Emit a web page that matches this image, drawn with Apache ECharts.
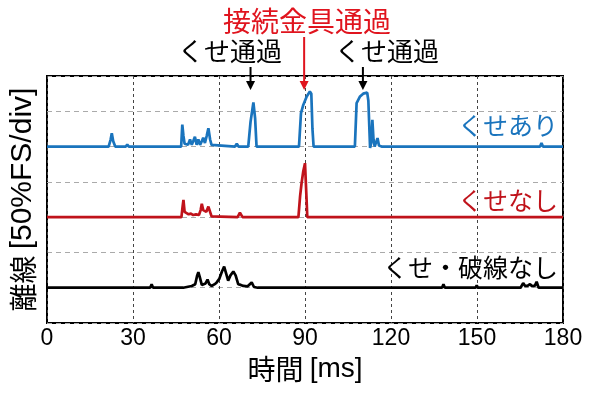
<!DOCTYPE html>
<html><head><meta charset="utf-8">
<script src="https://cdn.jsdelivr.net/npm/echarts@6/dist/echarts.min.js"></script>
<style>html,body{margin:0;padding:0;background:#fff}#c{width:600px;height:394px}</style>
</head><body><div id="c"></div>
<script>
// x ticks
const xTicks = [0, 30, 60, 90, 120, 150, 180];
// series names
const seriesNames = ['くせあり', 'くせなし', 'くせ・破線なし'];
// baselines (div) for each trace
const baselines = [5, 3, 1];
// traces: [time ms, height in div above baseline]
const blueTrace = [[0,0],[21.5,0],[22.2,0.2],[22.6,0.38],[23.1,0.15],[23.8,0],[27.5,0],[28,0.06],[28.5,0],[37.3,0],[37.7,0.04],[38.1,0],
 [46.8,0],[47.2,0.62],[47.6,0.3],[48.0,0.08],[48.5,0.1],[49.2,0.05],[49.9,0.2],[50.5,0.05],[51.0,0.15],[51.6,0.28],[52.2,0.05],[52.8,0.2],
 [53.4,0.05],[54.0,0.15],[54.5,0.25],[55.1,0.1],[55.7,0.3],[56.3,0.52],[56.9,0.2],[57.4,0.05],[58,0],[65.6,0],[66.2,0.08],[66.8,0],
 [70.2,0],[71.0,0.7],[72.0,1.25],[72.6,0.8],[73.1,0],[87.9,0],[88.6,0.95],[89.4,1.18],[90.6,1.42],[91.7,1.56],[92.2,1.5],[92.6,0.5],[93.0,0],
 [107.4,0],[108.0,1.23],[109.2,1.42],[110.3,1.5],[111.7,1.53],[112.1,1.3],[112.7,-0.04],[113.1,0.1],[113.5,0.76],[113.9,0.2],[114.3,0],
 [114.9,0.05],[115.3,0.24],[115.8,0.03],[116.7,0],[163.8,0],[164.3,0.05],[164.8,0],[167.0,0],[167.3,0.05],[167.6,0],[172.0,0],[172.5,0.1],[173.0,0],[180,0]];
const redTrace = [[0,0],[46.9,0],[47.3,0.3],[47.6,0.49],[48.0,0.15],[48.6,0.1],[49.4,0.08],[50.2,0.1],[51,0.06],[52,0.08],[53,0.06],[53.6,0.2],
 [54.0,0.38],[54.5,0.2],[55.1,0.22],[55.6,0.15],[56.3,0.3],[56.9,0.28],[57.4,0.02],[66.5,0],[67.3,0.13],[68.2,0],[87.7,0],[88.3,0.6],
 [88.8,0.96],[89.4,1.3],[90.0,1.53],[90.6,0.4],[90.8,0],[180,0]];
const blackTrace = [[0,0],[36,0],[36.5,0.1],[37,0],[46.5,0],[47,0.04],[47.5,0],[50.5,0.05],[51,0.1],[51.7,0.1],[52.4,0.35],[52.8,0.44],[53.3,0.3],
 [54.0,0.08],[54.5,0.05],[55.3,0.12],[56,0.23],[56.6,0.1],[57.4,0.05],[58.5,0.1],[59.2,0.15],[60.1,0.25],[61,0.45],[61.8,0.6],[62.5,0.4],
 [63.2,0.2],[64,0.35],[65,0.46],[65.8,0.35],[66.7,0.1],[67.6,0.08],[68.5,0.05],[70,0.04],[71.4,0.15],[72.2,0.02],[73.5,0],[89.5,0],[90,0.04],
 [90.5,0],[137.8,0],[138.3,0.1],[138.8,0],[149.5,0],[149.9,0.07],[150.3,0],[165.2,0],[166.1,0.13],[166.8,0.05],[167.6,0.05],[168.5,0.1],
 [169.2,0.04],[170.2,0.06],[170.8,0.17],[171.5,0],[180,0]];
// annotations: label, arrow time (ms)
const annoLabels = ['くせ通過', '接続金具通過', 'くせ通過'];
const annoTimes = [71.0, 89.7, 110.2];

const colors = ['#1a74bd', '#c0131b', '#000000'];
const traces = [blueTrace, redTrace, blackTrace];
const JP = '"Noto Sans CJK JP", "Noto Sans", sans-serif';
const LAT = '"Liberation Sans", Arial, sans-serif';

const chart = echarts.init(document.getElementById('c'), null, {renderer: 'canvas'});
const option = {
  animation: false,
  backgroundColor: '#fff',
  grid: {left: 47, right: 37, top: 76, bottom: 71, show: true, borderColor: '#000', borderWidth: 2, backgroundColor: 'transparent', containLabel: false},
  xAxis: {
    type: 'value', min: xTicks[0], max: xTicks[xTicks.length-1], interval: 30,
    axisLine: {show: false}, axisTick: {show: false},
    axisLabel: {color: '#000', fontSize: 23, fontFamily: LAT, margin: 4},
    splitLine: {show: true, lineStyle: {color: '#444', type: [3, 3], width: 1}},
    name: '{a|時間} {b|[ms]}', nameLocation: 'middle', nameGap: 23,
    nameTextStyle: {color: '#000', fontSize: 28, fontFamily: JP,
      rich: {a: {fontSize: 28, fontFamily: JP, color: '#000'}, b: {fontSize: 28, fontFamily: LAT, color: '#000'}}}
  },
  yAxis: {
    type: 'value', min: 0, max: 7, interval: 1,
    axisLine: {show: false}, axisTick: {show: false}, axisLabel: {show: false},
    splitLine: {show: true, lineStyle: {color: '#aaa', type: [5, 4], width: 1}},
    name: '{a|離線} {b|[50%FS/div]}', nameLocation: 'middle', nameGap: 9, nameRotate: 90,
    nameTextStyle: {color: '#000', fontSize: 27, fontFamily: JP,
      rich: {a: {fontSize: 28, fontFamily: JP, color: '#000'}, b: {fontSize: 30, fontFamily: LAT, color: '#000'}}}
  },
  series: traces.map((tr, i) => ({
    name: seriesNames[i], type: 'line', showSymbol: false, symbol: 'none', clip: false,
    lineStyle: {color: colors[i], width: 2.7}, z: 3,
    data: tr.map(p => [p[0], p[1] + baselines[i]])
  }))
};
chart.setOption(option);

// annotations via graphic
const g = [];
const labelLevels = [5.6, 3.48, 1.585];
seriesNames.forEach((n, i) => {
  const py = chart.convertToPixel({gridIndex: 0}, [180, labelLevels[i]])[1];
  g.push({type: 'text', x: 558, y: py, style: {text: n, fill: colors[i], fontSize: 25, fontFamily: JP, align: 'right', verticalAlign: 'middle'}});
});
const annoX = annoTimes.map(t => chart.convertToPixel({gridIndex: 0}, [t, 0])[0]);
const annoColors = ['#000', '#e0141e', '#000'];
const annoStart = [67, 37, 67];
const labelCenters = [230, 307, 387];
const labelY = [51.5, 21.5, 51.5];
annoTimes.forEach((t, i) => {
  const x = annoX[i];
  g.push({type: 'line', shape: {x1: x, y1: annoStart[i], x2: x, y2: 84}, style: {stroke: annoColors[i], lineWidth: 2}});
  g.push({type: 'polygon', shape: {points: [[x - 4.5, 81], [x + 4.5, 81], [x, 90]]}, style: {fill: annoColors[i]}});
  g.push({type: 'text', x: labelCenters[i], y: labelY[i], style: {text: annoLabels[i], fill: annoColors[i], fontSize: i === 1 ? 28 : 26, fontFamily: JP, align: 'center', verticalAlign: 'middle'}});
});
chart.setOption({graphic: g});
</script>
</body></html>
